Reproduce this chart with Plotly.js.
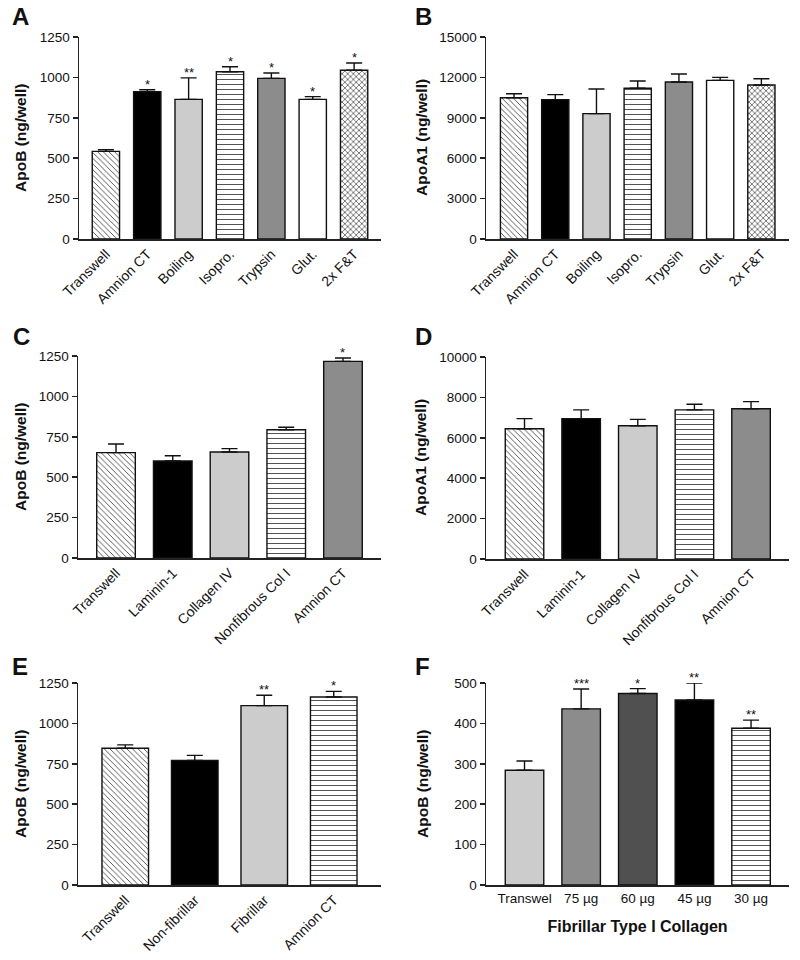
<!DOCTYPE html>
<html>
<head>
<meta charset="utf-8">
<script src="https://cdn.plot.ly/plotly-3.0.1.min.js"></script>
<style>html,body{margin:0;padding:0;background:#fff;}#chart{width:800px;height:960px;}</style>
</head>
<body>
<div id="chart"></div>
<script>
// ---- Data ----
const catsA = ['Transwell', 'Amnion CT', 'Boiling', 'Isopro.', 'Trypsin', 'Glut.', '2x F&T'];
const apoB_A = [542, 912, 864, 1035, 994, 864, 1044];
const apoB_A_sem = [11, 12, 133, 31, 33, 17, 45];
const sigA = ['', '*', '**', '*', '*', '*', '*'];

const catsB = ['Transwell', 'Amnion CT', 'Boiling', 'Isopro.', 'Trypsin', 'Glut.', '2x F&T'];
const apoA1_B = [10490, 10350, 9310, 11190, 11660, 11780, 11440];
const apoA1_B_sem = [300, 370, 1830, 540, 590, 220, 460];
const sigB = ['', '', '', '', '', '', ''];

const catsC = ['Transwell', 'Laminin-1', 'Collagen IV', 'Nonfibrous Col I', 'Amnion CT'];
const apoB_C = [652, 600, 656, 794, 1217];
const apoB_C_sem = [53, 33, 21, 15, 21];
const sigC = ['', '', '', '', '*'];

const catsD = ['Transwell', 'Laminin-1', 'Collagen IV', 'Nonfibrous Col I', 'Amnion CT'];
const apoA1_D = [6450, 6950, 6600, 7380, 7440];
const apoA1_D_sem = [500, 430, 310, 280, 350];
const sigD = ['', '', '', '', ''];

const catsE = ['Transwell', 'Non-fibrillar', 'Fibrillar', 'Amnion CT'];
const apoB_E = [846, 771, 1110, 1163];
const apoB_E_sem = [21, 31, 64, 35];
const sigE = ['', '', '**', '*'];

const catsF = ['Transwel', '75 µg', '60 µg', '45 µg', '30 µg'];
const apoB_F = [284, 436, 474, 458, 388];
const apoB_F_sem = [23, 49, 12, 42, 20];
const sigF = ['', '***', '*', '**', '**'];

// ---- Styles ----
const fillStyles = {
  diag:   {color: '#ffffff', shape: '\\', fg: '#333333', size: 4, sol: 0.2},
  black:  {color: '#000000'},
  light:  {color: '#cccccc'},
  mid:    {color: '#8c8c8c'},
  dark:   {color: '#505050'},
  white:  {color: '#ffffff'},
  hlines: {color: '#ffffff', shape: '-', fg: '#555555', size: 5, sol: 0.2},
  xhatch: {color: '#ffffff', shape: 'x', fg: '#333333', size: 4, sol: 0.3}
};
const stylesA = ['diag', 'black', 'light', 'hlines', 'mid', 'white', 'xhatch'];
const stylesC = ['diag', 'black', 'light', 'hlines', 'mid'];
const stylesE = ['diag', 'black', 'light', 'hlines'];
const stylesF = ['light', 'mid', 'dark', 'black', 'hlines'];

const FONT = 'Liberation Sans, Arial, Helvetica, sans-serif';

function barTraces(cats, vals, sem, styles, xa, ya, width) {
  return cats.map((c, i) => {
    const s = fillStyles[styles[i]];
    const marker = {color: s.color, line: {color: '#111111', width: 1.4}};
    if (s.shape) {
      marker.pattern = {shape: s.shape, fgcolor: s.fg, bgcolor: s.color, size: s.size,
                        solidity: s.sol, fillmode: 'replace'};
    }
    return {
      type: 'bar', x: [c], y: [vals[i]], xaxis: xa, yaxis: ya, width: width,
      marker: marker,
      error_y: {type: 'data', symmetric: false, array: [sem[i]], arrayminus: [0],
                color: '#111111', thickness: 1.4, width: 8},
      hoverinfo: 'x+y', name: c
    };
  });
}

const panels = [
  {cats: catsA, vals: apoB_A, sem: apoB_A_sem, sig: sigA, styles: stylesA, xa: 'x', ya: 'y', w: 0.66},
  {cats: catsB, vals: apoA1_B, sem: apoA1_B_sem, sig: sigB, styles: stylesA, xa: 'x2', ya: 'y2', w: 0.66},
  {cats: catsC, vals: apoB_C, sem: apoB_C_sem, sig: sigC, styles: stylesC, xa: 'x3', ya: 'y3', w: 0.68},
  {cats: catsD, vals: apoA1_D, sem: apoA1_D_sem, sig: sigD, styles: stylesC, xa: 'x4', ya: 'y4', w: 0.68},
  {cats: catsE, vals: apoB_E, sem: apoB_E_sem, sig: sigE, styles: stylesE, xa: 'x5', ya: 'y5', w: 0.67},
  {cats: catsF, vals: apoB_F, sem: apoB_F_sem, sig: sigF, styles: stylesF, xa: 'x6', ya: 'y6', w: 0.68}
];

let traces = [];
panels.forEach(p => { traces = traces.concat(barTraces(p.cats, p.vals, p.sem, p.styles, p.xa, p.ya, p.w)); });

const annotations = [];
panels.forEach(p => {
  p.sig.forEach((s, i) => {
    if (s) annotations.push({
      xref: p.xa, yref: p.ya, x: p.cats[i], y: p.vals[i] + p.sem[i],
      text: s, showarrow: false, yanchor: 'bottom', yshift: -4,
      font: {family: FONT, size: 13, color: '#111'}
    });
  });
});

function px2x(px) { return px / 800; }
function px2y(py) { return (960 - py) / 960; }

function xAxis(l, r, range, angle, anchor, cats, fs) {
  return {
    domain: [px2x(l), px2x(r)], anchor: anchor, type: 'category', range: range,
    categoryorder: 'array', categoryarray: cats,
    showline: true, linecolor: '#222', linewidth: 1.5, ticks: '', showgrid: false,
    zeroline: false, tickangle: angle, automargin: false,
    tickfont: {family: FONT, size: fs, color: '#111'}, fixedrange: true
  };
}
function yAxis(t, b, range, dtick, anchor) {
  return {
    domain: [px2y(b), px2y(t)], anchor: anchor, range: range, dtick: dtick, tick0: 0,
    tickformat: 'd',
    showline: true, linecolor: '#222', linewidth: 1.5, ticks: 'outside', ticklen: 5,
    tickwidth: 1.5, tickcolor: '#222', showgrid: false, zeroline: false, automargin: false,
    tickfont: {family: FONT, size: 13.5, color: '#111'}, fixedrange: true
  };
}

const layout = {
  width: 800, height: 960, margin: {l: 0, r: 0, t: 0, b: 0},
  paper_bgcolor: '#fff', plot_bgcolor: '#fff', showlegend: false, barmode: 'overlay',
  xaxis:  xAxis(79, 381, [-0.65, 6.65], -45, 'y', catsA, 14),
  yaxis:  yAxis(37, 239, [0, 1250], 250, 'x'),
  xaxis2: xAxis(486, 789, [-0.68, 6.67], -45, 'y2', catsB, 14),
  yaxis2: yAxis(37, 239, [0, 15000], 3000, 'x2'),
  xaxis3: xAxis(78, 381, [-0.67, 4.67], -45, 'y3', catsC, 14),
  yaxis3: yAxis(356, 558, [0, 1250], 250, 'x3'),
  xaxis4: xAxis(486, 789, [-0.68, 4.67], -45, 'y4', catsD, 14),
  yaxis4: yAxis(357, 559, [0, 10000], 2000, 'x4'),
  xaxis5: xAxis(78, 381, [-0.68, 3.68], -45, 'y5', catsE, 14),
  yaxis5: yAxis(683, 885, [0, 1250], 250, 'x5'),
  xaxis6: Object.assign(xAxis(486, 789, [-0.68, 4.67], 0, 'y6', catsF, 13.5), {
    title: {text: 'Fibrillar Type I Collagen', standoff: 16,
            font: {family: FONT, size: 16, weight: 'bold', color: '#111'}}
  }),
  yaxis6: yAxis(683, 885, [0, 500], 100, 'x6'),
  annotations: annotations
};

// y-axis titles
const yTitles = [
  {text: 'ApoB (ng/well)', x: 20, yref: 'y domain'},
  {text: 'ApoA1 (ng/well)', x: 421, yref: 'y2 domain'},
  {text: 'ApoB (ng/well)', x: 20, yref: 'y3 domain'},
  {text: 'ApoA1 (ng/well)', x: 421, yref: 'y4 domain'},
  {text: 'ApoB (ng/well)', x: 20, yref: 'y5 domain'},
  {text: 'ApoB (ng/well)', x: 422, yref: 'y6 domain'}
];
yTitles.forEach(t => annotations.push({
  xref: 'paper', yref: t.yref, x: px2x(t.x), y: 0.5, xanchor: 'center', yanchor: 'middle',
  text: t.text, textangle: -90, showarrow: false,
  font: {family: FONT, size: 15.5, weight: 'bold', color: '#111'}
}));

// panel letters
const letters = [
  {t: 'A', x: 10, y: 17}, {t: 'B', x: 413, y: 17},
  {t: 'C', x: 11, y: 336}, {t: 'D', x: 413, y: 336},
  {t: 'E', x: 10, y: 666}, {t: 'F', x: 413, y: 666}
];
letters.forEach(l => annotations.push({
  xref: 'paper', yref: 'paper', x: px2x(l.x), y: px2y(l.y), xanchor: 'left', yanchor: 'middle',
  text: l.t, showarrow: false, font: {family: FONT, size: 24, weight: 'bold', color: '#111'}
}));

Plotly.newPlot('chart', traces, layout, {staticPlot: true});
</script>
</body>
</html>
